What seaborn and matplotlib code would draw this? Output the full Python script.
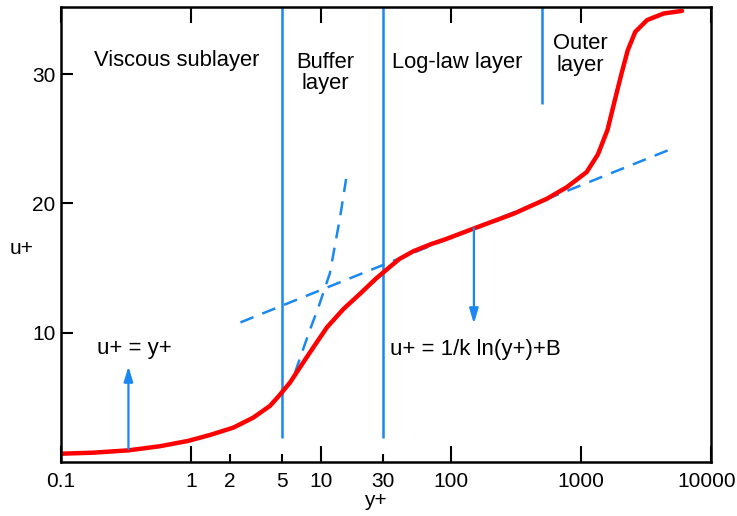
import numpy as np
import pandas as pd
import matplotlib
matplotlib.use("Agg")
import matplotlib.pyplot as plt
import matplotlib.transforms as mtransforms
import seaborn as sns

# velocity profile (y+ , u+)
yplus = [0.1, 0.177, 0.33, 0.578, 0.95, 1.40, 2.12, 3.01, 4.05, 4.75, 5.78,
         6.88, 8.72, 11.1, 14.9, 19.9, 26.3, 33.0, 40.0, 51.2, 70.0, 92.3, 153,
         302, 545, 778, 1106, 1350, 1600, 1822, 2050, 2290, 2615, 3225, 4325,
         5990]
uplus = [0.64, 0.72, 0.9, 1.22, 1.63, 2.09, 2.66, 3.43, 4.34, 5.12, 6.15,
         7.31, 8.86, 10.41, 11.84, 13.0, 14.16, 15.0, 15.7, 16.3, 16.85, 17.26,
         18.1, 19.2, 20.36, 21.26, 22.43, 23.8, 25.7, 28.0, 30.05, 31.86, 33.28,
         34.19, 34.7, 34.9]

# dashed guide lines
visc_x = [6.3, 8.2, 9.5, 11.7, 14.0, 15.6]
visc_u = [6.9, 10.2, 11.9, 14.6, 18.9, 21.9]
log_x = [2.4, 4900]
log_u = [10.8, 24.2]

# region boundaries
bound_x = [5, 30, 500]
bound_lo = [1.86, 1.86, 27.7]

# labels
region_names = ["Viscous sublayer", "Buffer\nlayer", "Log-law layer", "Outer\nlayer"]
region_x = [0.77, 10.7, 111, 980]
region_u = [31.1, 30.1, 30.9, 31.5]

major_ticks = [0.1, 1, 10, 100, 1000, 10000]
major_labels = ["0.1", "1", "10", "100", "1000", "10000"]
minor_ticks = [2, 5, 30]
minor_labels = ["2", "5", "30"]
yticks = [10, 20, 30]

red = "#ff0000"
blue = "#1a88f0"

sns.set_style("ticks")
plt.rcParams['font.family'] = ['Liberation Sans', 'DejaVu Sans']
plt.rcParams['font.size'] = 15
plt.rcParams['text.color'] = 'black'
plt.rcParams['axes.labelcolor'] = 'black'

fig = plt.figure(figsize=(7.37, 5.16), dpi=100)
ax = fig.add_axes([0.0828, 0.1047, 0.8819, 0.8817])
ax.set_xscale("log")

# region boundaries
ax.vlines(bound_x, bound_lo, 36, color=blue, lw=1.8)

# guide lines
sns.lineplot(x=visc_x, y=visc_u, ax=ax, color=blue, lw=1.8,
             linestyle=(0, (5.6, 3.8)))
sns.lineplot(x=log_x, y=log_u, ax=ax, color=blue, lw=1.8,
             linestyle=(0, (5.6, 3.8)))

# profile
df = pd.DataFrame({"y+": yplus, "u+": uplus})
sns.lineplot(data=df, x="y+", y="u+", ax=ax, color=red, lw=3.2,
             solid_capstyle="round", solid_joinstyle="round")

# arrows
arrow_kw = dict(arrowstyle="-|>,head_length=0.6,head_width=0.18", color=blue, lw=1.6,
                shrinkA=0, shrinkB=0)
ax.annotate("", xy=(0.33, 7.4), xytext=(0.33, 1.0), arrowprops=arrow_kw)
ax.annotate("", xy=(150, 10.7), xytext=(150, 18.1), arrowprops=arrow_kw)

ax.text(0.19, 8.8, "u+ = y+", ha="left", va="center", fontsize=16)
ax.text(34, 8.7, "u+ = 1/k ln(y+)+B", ha="left", va="center", fontsize=16)

for name, xx, uu in zip(region_names, region_x, region_u):
    ax.text(xx, uu, name, ha="center", va="center", linespacing=1.05,
            fontsize=15.8)

ax.set_xlim(0.1, 10000)
ax.set_ylim(0, 35.2)
ax.set_xticks(major_ticks, major_labels)
ax.set_xticks(minor_ticks, minor_labels, minor=True)
ax.set_yticks(yticks, [str(t) for t in yticks])

ax.tick_params(axis="x", which="major", direction="in", length=11.5, width=1.5,
               top=True, pad=7, labelsize=15, colors="black")
ax.tick_params(axis="x", which="minor", direction="in", length=6, width=1.5,
               top=False, pad=7, labelsize=15, colors="black")
ax.tick_params(axis="y", which="major", direction="in", length=8.5, width=1.5,
               pad=4, labelsize=15, colors="black")
ax.tick_params(axis="y", which="minor", left=False, right=False)

# nudge the last label so it stays inside the figure
last = ax.get_xticklabels()[-1]
last.set_transform(last.get_transform() +
                   mtransforms.ScaledTranslation(-4 / 100, 0, fig.dpi_scale_trans))

for sp in ax.spines.values():
    sp.set_visible(True)
    sp.set_linewidth(1.8)
    sp.set_color("black")

ax.set_xlabel("y+", fontsize=15, va="center")
ax.set_ylabel("u+", fontsize=15, rotation=0, ha="center", va="center")
ax.xaxis.set_label_coords(0.483, -0.084)
ax.yaxis.set_label_coords(-0.06, 0.47)

fig.savefig("out.png", dpi=100)
